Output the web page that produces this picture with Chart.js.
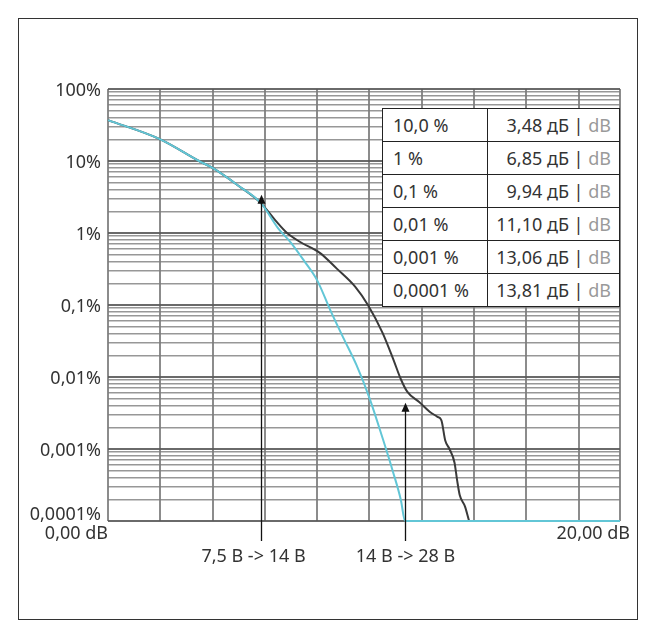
<!DOCTYPE html>
<html>
<head>
<meta charset="utf-8">
<script src="https://cdn.jsdelivr.net/npm/chart.js@4.4.1/dist/chart.umd.min.js"></script>
<style>
  body { margin: 0; background: #fff; }
  #wrap { position: relative; width: 656px; height: 637px; }
  #myChart { position: absolute; left: 0; top: 0; }
  #frame { position: absolute; left: 18px; top: 18px; width: 620px; height: 602px; border: 1px solid #333; box-sizing: border-box; }
  #tabla { position: absolute; left: 382px; top: 108px; width: 238px; border-collapse: collapse; background: #fff;
           font-family: "Noto Sans", sans-serif; font-size: 18px; color: #333; }
  #tabla td { border: 1px solid #222; padding: 0 8px; white-space: nowrap; }
  #tabla tr { height: 33px; }
  #tabla td.c1 { width: 86px; text-align: left; padding-left: 10px; }
  #tabla td.c2 { text-align: right; }
  #tabla span.en { color: #9a9a9a; }
</style>
</head>
<body>
<div id="wrap">
  <canvas id="myChart" width="656" height="637"></canvas>
  <div id="frame"></div>
  <table id="tabla"></table>
</div>
<script>
//DATOS
const curvaNegraDb = [0, 2.0, 3.48, 4.0, 5.0, 5.85, 6.4, 6.85, 7.35, 8.1, 8.75, 9.45, 9.94, 10.5, 10.9, 11.2, 11.45, 11.9, 12.3, 12.6, 12.75, 12.9, 13.06, 13.25, 13.35, 13.45, 13.65, 13.81];
const curvaNegraPct = [37, 20, 10, 8, 4.5, 2.6, 1.5, 1.0, 0.75, 0.53, 0.32, 0.18, 0.1, 0.041, 0.018, 0.0093, 0.0062, 0.0045, 0.0033, 0.0028, 0.0025, 0.0013, 0.001, 0.00065, 0.00037, 0.00023, 0.00016, 0.0001];

const curvaAzulDb = [0, 2.0, 3.48, 4.0, 5.0, 5.85, 6.5, 7.0, 7.5, 8.0, 8.5, 9.0, 9.5, 10.0, 10.5, 10.9, 11.2, 11.36, 19.58];
const curvaAzulPct = [37, 20, 10, 8, 4.5, 2.6, 1.17, 0.73, 0.41, 0.22, 0.085, 0.035, 0.0147, 0.0051, 0.00142, 0.00048, 0.000196, 0.0001, 0.0001];

const decadas = [0.0001, 0.001, 0.01, 0.1, 1, 10, 100];
const etiquetasY = ["0,0001%", "0,001%", "0,01%", "0,1%", "1%", "10%", "100%"];
const gridX = [0, 2, 4, 6, 8, 10, 12, 14, 16, 18, 19.58];
const etiquetasX = ["0,00 dB", "20,00 dB"];

const tablaProb = ["10,0 %", "1 %", "0,1 %", "0,01 %", "0,001 %", "0,0001 %"];
const tablaDb = ["3,48", "6,85", "9,94", "11,10", "13,06", "13,81"];

const flechasDb = [5.85, 11.36];
const flechasPct = [3.4, 0.0044];
const flechasTexto = ["7,5 B -> 14 B", "14 B -> 28 B"];

//TABLA
function cargarTabla() {
  let texto = "";
  for (var i = 0; i < tablaProb.length; i++) {
    texto += `<tr><td class="c1">${tablaProb[i]}</td><td class="c2">${tablaDb[i]} дБ | <span class="en">dB</span></td></tr>`;
  }
  return texto;
}
document.getElementById("tabla").innerHTML = cargarTabla();

//GRID
const ticksY = [];
decadas.forEach((d, i) => {
  if (i < decadas.length - 1) {
    for (let m = 1; m <= 9; m++) ticksY.push({ value: d * m });
  } else {
    ticksY.push({ value: d });
  }
});
function esDecada(v) {
  const l = Math.log10(v);
  return Math.abs(l - Math.round(l)) < 1e-6;
}

const FUENTE = '18px "Noto Sans", sans-serif';

//PLUGIN ETIQUETAS Y FLECHAS
const textosPlugin = {
  id: "textos",
  afterDatasetsDraw(chart) {
    const ctx = chart.ctx;
    const sx = chart.scales.x;
    const sy = chart.scales.y;
    const area = chart.chartArea;
    ctx.save();
    ctx.font = FUENTE;
    ctx.fillStyle = "#333";
    // eje Y
    ctx.textAlign = "right";
    ctx.textBaseline = "middle";
    decadas.forEach((d, i) => {
      let y = sy.getPixelForValue(d);
      if (i === 0) y -= 8;
      ctx.fillText(etiquetasY[i], area.left - 7, y + 2);
    });
    // eje X
    ctx.fillText(etiquetasX[0], area.left, area.bottom + 13);
    ctx.fillText(etiquetasX[1], area.right + 10, area.bottom + 13);
    // flechas
    ctx.strokeStyle = "#111";
    ctx.fillStyle = "#111";
    ctx.lineWidth = 1.3;
    ctx.textAlign = "center";
    flechasDb.forEach((v, i) => {
      const x = Math.round(sx.getPixelForValue(v)) + 0.5;
      const yTip = sy.getPixelForValue(flechasPct[i]);
      ctx.beginPath();
      ctx.moveTo(x, area.bottom + 20);
      ctx.lineTo(x, yTip + 6);
      ctx.stroke();
      ctx.beginPath();
      ctx.moveTo(x, yTip);
      ctx.lineTo(x - 4, yTip + 9);
      ctx.lineTo(x + 4, yTip + 9);
      ctx.closePath();
      ctx.fill();
      ctx.fillStyle = "#333";
      ctx.fillText(flechasTexto[i], x - (i === 0 ? 8 : 0), area.bottom + 36);
      ctx.fillStyle = "#111";
    });
    ctx.restore();
  },
};

const data = {
  datasets: [
    {
      label: "azul",
      data: curvaAzulDb.map((x, i) => ({ x: x, y: curvaAzulPct[i] })),
      borderColor: "#62c6d6",
      borderWidth: 2,
      pointRadius: 0,
      cubicInterpolationMode: "monotone",
      clip: false,
      order: 0,
    },
    {
      label: "negra",
      data: curvaNegraDb.map((x, i) => ({ x: x, y: curvaNegraPct[i] })),
      borderColor: "#3a3a3a",
      borderWidth: 2,
      pointRadius: 0,
      cubicInterpolationMode: "monotone",
      clip: false,
      order: 1,
    },
  ],
};

const config = {
  type: "line",
  data: data,
  plugins: [textosPlugin],
  options: {
    responsive: false,
    animation: false,
    layout: { padding: { left: 108, top: 89, right: 36, bottom: 116 } },
    plugins: { legend: { display: false }, tooltip: { enabled: false } },
    scales: {
      x: {
        type: "linear",
        min: 0,
        max: 19.58,
        afterBuildTicks: (s) => { s.ticks = gridX.map((v) => ({ value: v })); },
        ticks: { display: false },
        grid: { color: "rgba(120,120,120,0.85)", lineWidth: 2, drawTicks: false },
        border: { display: false },
      },
      y: {
        type: "logarithmic",
        min: 0.0001,
        max: 100,
        afterBuildTicks: (s) => { s.ticks = ticksY.map((t) => ({ value: t.value })); },
        ticks: { display: false },
        grid: {
          color: (c) => (esDecada(c.tick.value) ? "rgba(90,90,90,0.9)" : "rgba(125,125,125,0.8)"),
          lineWidth: (c) => (esDecada(c.tick.value) ? 2 : 1.6),
          drawTicks: false,
        },
        border: { display: false },
      },
    },
  },
};
const myChart = new Chart(document.getElementById("myChart"), config);
</script>
</body>
</html>
